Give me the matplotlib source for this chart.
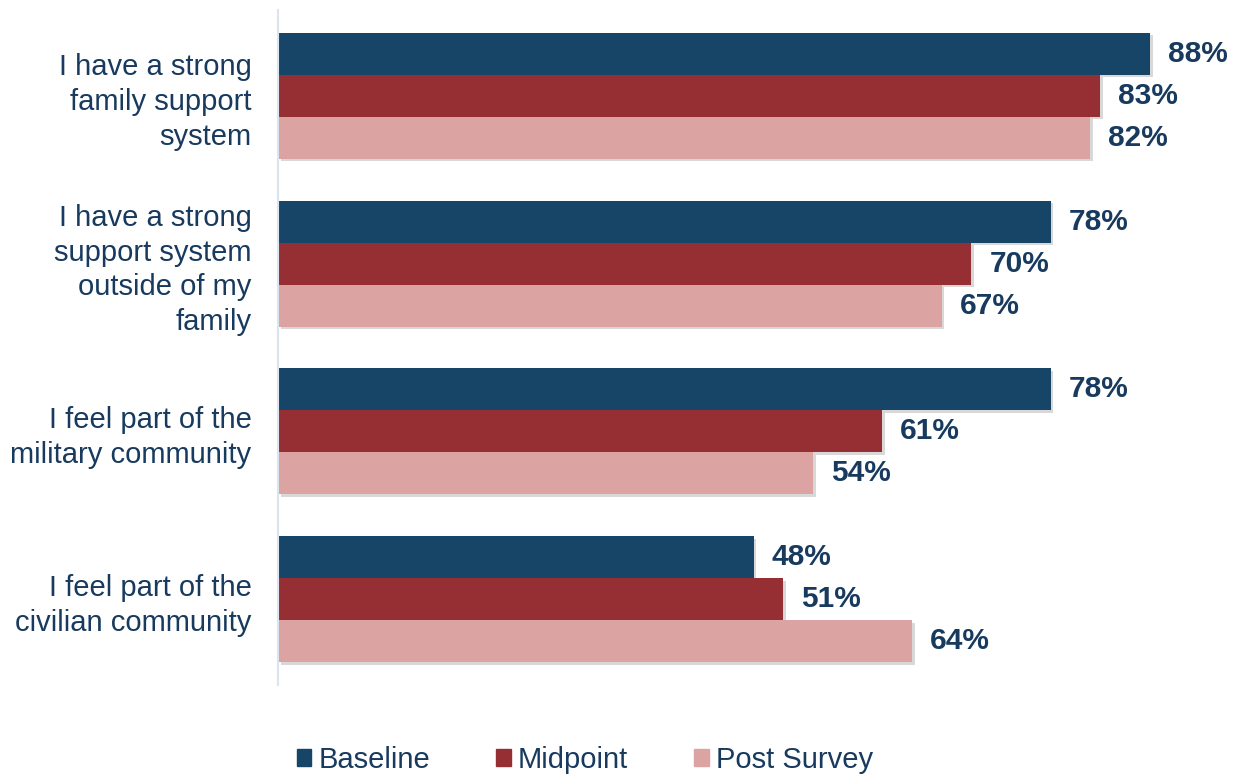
import numpy as np
from matplotlib import pyplot as plt
from matplotlib import patheffects as pe
from matplotlib.patches import Patch

plt.rcParams['font.family'] = ['Liberation Sans', 'DejaVu Sans']

categories = ["I have a strong\nfamily support\nsystem",
              "I have a strong\nsupport system\noutside of my\nfamily",
              "I feel part of the\nmilitary community",
              "I feel part of the\ncivilian community"]
series = ["Baseline", "Midpoint", "Post Survey"]
baseline = [88, 78, 78, 48]
midpoint = [83, 70, 61, 51]
post_survey = [82, 67, 54, 64]

colors = ["#174567", "#952f33", "#dba3a2"]
text_col = "#173a5e"

fig = plt.figure(figsize=(12.38, 7.74), dpi=100)
ax = fig.add_axes([278/1238, 89/774, 951/1238, 675/774])

y = np.arange(len(categories))
h = 0.25
shadow = [pe.SimplePatchShadow(offset=(2, -2), shadow_rgbFace='gray', alpha=0.3), pe.Normal()]
for k, vals in enumerate([baseline, midpoint, post_survey]):
    bars = ax.barh(y + (k - 1) * h, vals, height=h, color=colors[k], label=series[k], zorder=2)
    for b in bars:
        b.set_path_effects(shadow)
    for yi, v in zip(y + (k - 1) * h, vals):
        ax.annotate(f"{v}%", (v, yi), xytext=(13, 0), textcoords='offset points',
                    va='center', ha='left', fontsize=21.5, fontweight='bold', color=text_col)

ax.set_xlim(0, 96)
ax.set_ylim(3.51, -0.51)
ax.set_yticks(y)
ax.set_yticklabels(categories, fontsize=21, color=text_col, ha='right', linespacing=1.3)
ax.tick_params(axis='y', length=0, pad=19)
ax.set_xticks([])
for s in ['top', 'right', 'bottom']:
    ax.spines[s].set_visible(False)
ax.spines['left'].set_color('#dbe5f1')
ax.spines['left'].set_linewidth(1.5)

handles = [Patch(color=c) for c in colors]
leg = fig.legend(handles, series, loc='center', bbox_to_anchor=(0.4725, 0.018), ncol=3,
                 frameon=False, fontsize=21, handlelength=0.5, handleheight=0.5,
                 handletextpad=0.25, columnspacing=2.26)
for t in leg.get_texts():
    t.set_color(text_col)

fig.savefig("out.png", dpi=100)
